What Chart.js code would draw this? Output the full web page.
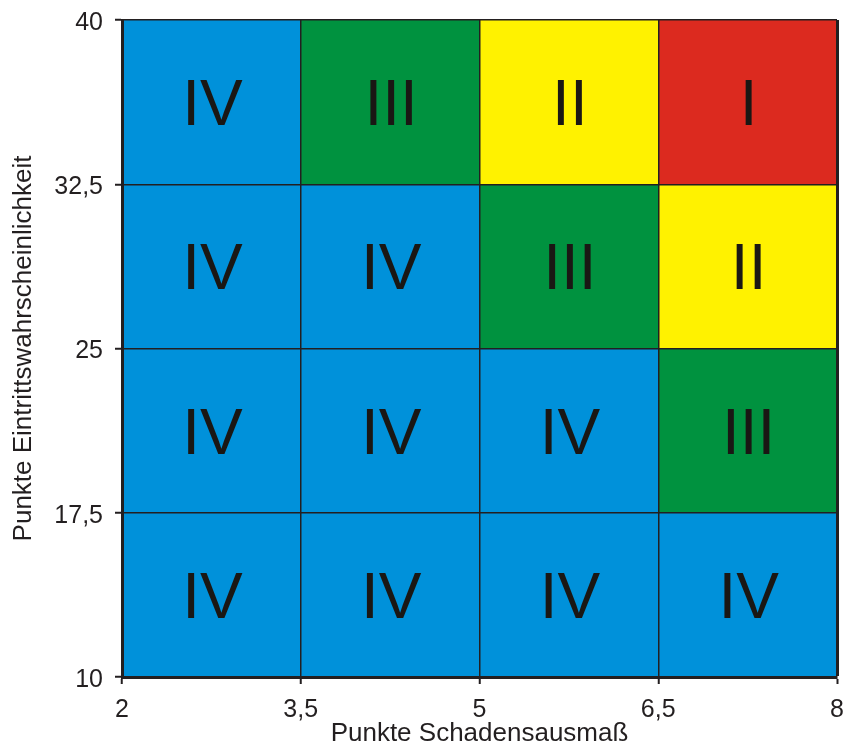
<!DOCTYPE html>
<html>
<head>
<meta charset="utf-8">
<script src="https://cdn.jsdelivr.net/npm/chart.js@4/dist/chart.umd.min.js"></script>
<style>
  html, body { margin: 0; padding: 0; background: #ffffff; }
  #wrap { width: 843px; height: 747px; }
</style>
</head>
<body>
<div id="wrap"><canvas id="c" width="843" height="747"></canvas></div>
<script>
// ---- data ----
const xEdges = [2, 3.5, 5, 6.5, 8];          // Punkte Schadensausmaß
const yEdges = [10, 17.5, 25, 32.5, 40];      // Punkte Eintrittswahrscheinlichkeit
// risk class per cell, rows from bottom (10–17,5) to top (32,5–40)
const riskRows = [
  ['IV', 'IV', 'IV', 'IV'],
  ['IV', 'IV', 'IV', 'III'],
  ['IV', 'IV', 'III', 'II'],
  ['IV', 'III', 'II', 'I']
];
const classColors = { 'I': '#dc2a1f', 'II': '#fff200', 'III': '#00923f', 'IV': '#0091da' };
const xTitle = 'Punkte Schadensausmaß';
const yTitle = 'Punkte Eintrittswahrscheinlichkeit';

// ---- build datasets: one filled polygon per cell ----
const datasets = [];
const cellLabels = [];
for (let r = 0; r < riskRows.length; r++) {
  for (let c = 0; c < riskRows[r].length; c++) {
    const x0 = xEdges[c], x1 = xEdges[c + 1], y0 = yEdges[r], y1 = yEdges[r + 1];
    const cls = riskRows[r][c];
    datasets.push({
      label: cls,
      data: [{x: x0, y: y0}, {x: x1, y: y0}, {x: x1, y: y1}, {x: x0, y: y1}, {x: x0, y: y0}],
      showLine: true,
      fill: 'shape',
      backgroundColor: classColors[cls],
      borderColor: classColors[cls],
      borderWidth: 0,
      pointRadius: 0,
      pointHoverRadius: 0,
      tension: 0
    });
    cellLabels.push({x: (x0 + x1) / 2, y: (y0 + y1) / 2, text: cls});
  }
}

const FONT = '"Liberation Sans", Arial, "DejaVu Sans", sans-serif';
const INK = '#231f20';

const cellTextPlugin = {
  id: 'cellText',
  afterDatasetsDraw(chart) {
    const {ctx, scales: {x, y}} = chart;
    const size = 64;
    ctx.save();
    ctx.fillStyle = '#1a1714';
    ctx.font = size + 'px ' + FONT;
    ctx.textAlign = 'center';
    ctx.textBaseline = 'alphabetic';
    for (const l of cellLabels) {
      // baseline placed so that capitals are vertically centred in the cell
      ctx.fillText(l.text, x.getPixelForValue(l.x) + 1, y.getPixelForValue(l.y) + size * 0.36);
    }
    ctx.restore();
  }
};

const fmt = v => String(Math.round(v * 10) / 10).replace('.', ',');
const noPad = s => { s.paddingTop = 0; s.paddingBottom = 0; s.paddingLeft = 0; s.paddingRight = 0; };

new Chart(document.getElementById('c'), {
  type: 'scatter',
  data: { datasets },
  options: {
    responsive: false,
    animation: false,
    events: [],
    layout: { padding: { top: 20, right: 6, left: 0, bottom: 0 } },
    plugins: { legend: { display: false }, tooltip: { enabled: false } },
    scales: {
      x: {
        type: 'linear',
        min: xEdges[0], max: xEdges[xEdges.length - 1],
        afterFit: s => { s.height = 70; noPad(s); },
        afterBuildTicks: s => { s.ticks = xEdges.map(v => ({value: v})); },
        ticks: { font: { family: FONT, size: 25 }, color: INK, padding: 11, callback: fmt, maxRotation: 0, autoSkip: false, z: 3 },
        grid: {
          z: 1,
          color: INK,
          lineWidth: ctx => (ctx.index === xEdges.length - 1 ? 3 : 1.5),
          tickLength: 7,
          tickColor: INK,
          tickWidth: 2
        },
        border: { display: true, color: INK, width: 3, z: 2 },
        title: { display: true, text: xTitle, color: INK, font: { family: FONT, size: 26, lineHeight: 1 }, padding: { top: 0, bottom: 0 } }
      },
      y: {
        type: 'linear',
        min: yEdges[0], max: yEdges[yEdges.length - 1],
        afterFit: s => { s.width = 122; noPad(s); },
        afterBuildTicks: s => { s.ticks = yEdges.map(v => ({value: v})); },
        ticks: { font: { family: FONT, size: 25 }, color: INK, padding: 12, labelOffset: 3, callback: fmt, autoSkip: false, z: 3 },
        grid: {
          z: 1,
          color: INK,
          lineWidth: 1.5,
          tickLength: 7,
          tickColor: INK,
          tickWidth: 2
        },
        border: { display: true, color: INK, width: 3, z: 2 },
        title: { display: true, text: yTitle, color: INK, font: { family: FONT, size: 26, lineHeight: 1 }, padding: { top: 11, bottom: 0 } }
      }
    }
  },
  plugins: [cellTextPlugin]
});
</script>
</body>
</html>
